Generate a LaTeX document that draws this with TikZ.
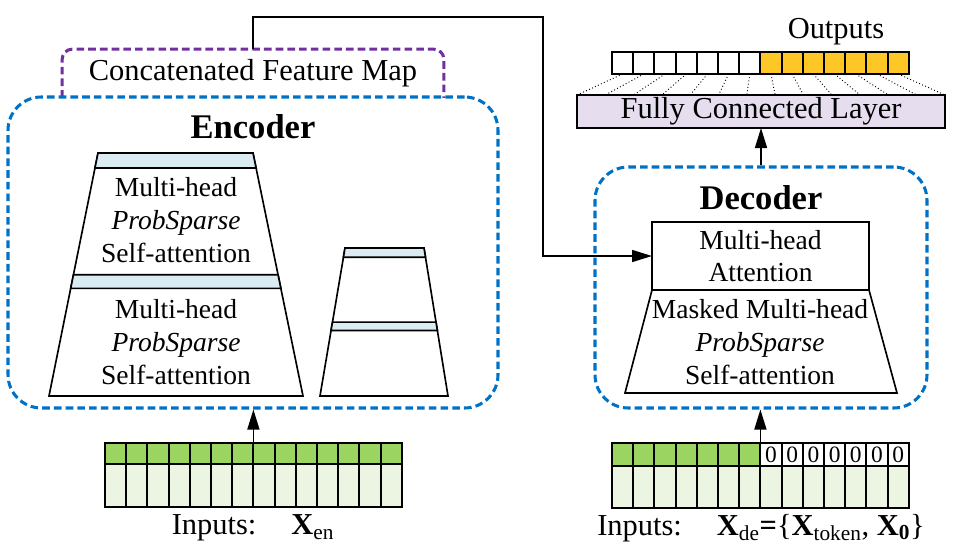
\documentclass[tikz,border=0pt]{standalone}
\usepackage{fontspec}
\setmainfont{Liberation Serif}
\usetikzlibrary{arrows.meta,calc,fit}
\definecolor{encblue}{RGB}{0,114,198}
\definecolor{mappurple}{RGB}{112,48,160}
\definecolor{barblue}{RGB}{218,236,242}
\definecolor{ingreen}{RGB}{155,212,96}
\definecolor{inlight}{RGB}{236,245,226}
\definecolor{outorange}{RGB}{255,198,39}
\definecolor{fclavender}{RGB}{230,222,238}
\tikzset{
dashbox/.style = {draw = encblue, line width = 2.6pt, dash pattern = on 6.5pt off 3.5pt, rounded corners = 1cm, inner sep = 0pt},
mapline/.style = {draw = mappurple, line width = 2.6pt, dash pattern = on 6.5pt off 3.5pt, rounded corners = 0.3cm},
plainbox/.style = {draw = black, line width = 1.4pt, inner sep = 0pt, outer sep = 0pt},
cell/.style = {draw = black, line width = 1.6pt, inner sep = 0pt, outer sep = 0pt, anchor = north west, minimum width = \cellw},
flow/.style = {line width = 1.3pt, -{Triangle[length = 0.6cm, width = 0.36cm]}},
bigtext/.style = {font = \fontsize{26}{31}\selectfont, inner sep = 0pt},
bodytext/.style = {font = \fontsize{23.5}{28}\selectfont, align = center, inner sep = 0pt},
titletext/.style = {font = \fontsize{29.5}{35}\selectfont\bfseries, inner sep = 0pt}
}
\begin{document}
\begin{tikzpicture}[x = 0.03cm, y = -0.03cm, line width = 1.4pt]
\pgfmathsetlengthmacro\cellw{0.03cm*21.2}
\useasboundingbox (0,0) rectangle (954,553);
\node[fit = {(63,50) (443,97)}, inner sep = 0pt] (concat) {};
\draw[mapline] (concat.south west) -- (concat.north west) -- (concat.north east) -- (concat.south east);
\node[bigtext] (concatlbl) at (253,73) {Concatenated Feature Map};
\node[dashbox, fit = {(8,97) (498,408)}] (encoder) {};
\node[titletext] (enctitle) at (253,127) {Encoder};
\foreach \ty/\tl/\tr/\bl/\br in {153/98/253/49/303, 248/345/424/320/448} {
\draw[fill = white] (\tl,\ty) -- (\tr,\ty) -- (\br,396) -- (\bl,396) -- cycle;
\foreach \a/\b in {0/0.062, 0.501/0.557} \draw[fill = barblue] ($(\tl,\ty)!\a!(\bl,396)$) -- ($(\tr,\ty)!\a!(\br,396)$) -- ($(\tr,\ty)!\b!(\br,396)$) -- ($(\tl,\ty)!\b!(\bl,396)$) -- cycle;
}
\node[bodytext] (encatt1) at (176,220) {Multi-head\\\textit{ProbSparse}\\Self-attention};
\node[bodytext] (encatt2) at (176,342) {Multi-head\\\textit{ProbSparse}\\Self-attention};
\foreach \i in {0,...,13} {
\node[cell, fill = ingreen, minimum height = 0.63cm] (eg\i) at (105+\i*21.2,443) {};
\node[cell, fill = inlight, minimum height = 1.29cm] (el\i) at (105+\i*21.2,464) {};
}
\draw[flow] (eg6.north east) -- (eg6.north east |- encoder.south);
\node[bigtext] (eninlbl) at (253,528) {Inputs:\hspace{1.15em}\textbf{X}\textsubscript{en}};
\node[dashbox, fit = {(595,167) (927,408)}] (decoder) {};
\node[titletext] (dectitle) at (761,198) {Decoder};
\node[plainbox, fill = white, fit = {(652,222) (869,290)}] (att) {};
\node[bodytext] (attlbl) at (att) {Multi-head\\Attention};
\draw[fill = white] (att.south west) -- (att.south east) -- (897,393) -- (625,393) -- cycle;
\node[bodytext] (decatt) at (760,342) {Masked Multi-head\\\textit{ProbSparse}\\Self-attention};
\node[plainbox, fill = fclavender, fit = {(577,95) (945,128)}] (fc) {};
\node[bigtext] (fclbl) at (fc) {Fully Connected Layer};
\draw[flow] (decoder.north) -- (fc.south);
\foreach \i in {0,...,13} {
\ifnum\i<7 \def\shade{white}\else\def\shade{outorange}\fi
\pgfmathsetmacro\fanpos{\i/13}
\node[cell, fill = \shade, minimum height = 0.66cm] (out\i) at (612+\i*21.2,52) {};
\draw[dotted, line width = 0.8pt] (out\i.south) -- ($(fc.north west)!\fanpos!(fc.north east)$);
}
\node[bigtext] (outlbl) at (836,32) {Outputs};
\foreach \i in {0,...,13} {
\ifnum\i<7 \def\shade{ingreen}\else\def\shade{white}\fi
\node[cell, fill = \shade, minimum height = 0.69cm] (dg\i) at (612+\i*21.2,443) {};
\node[cell, fill = inlight, minimum height = 1.26cm] (dl\i) at (612+\i*21.2,466) {};
}
\foreach \i in {7,...,13} \node[font = \fontsize{20}{24}\selectfont, inner sep = 0pt] (zero\i) at (dg\i) {0};
\draw[flow] (dg6.north east) -- (dg6.north east |- decoder.south);
\node[bigtext] (deinlbl) at (761,528) {Inputs:\hspace{1.15em}\textbf{X}\textsubscript{de}\textbf{=}\{\textbf{X}\textsubscript{token}, \textbf{X}\textsubscript{\textbf{0}}\}};
\coordinate (bend) at (543,17);
\draw[flow] (concat.north) |- (bend) |- (att.west);
\end{tikzpicture}
\end{document}
